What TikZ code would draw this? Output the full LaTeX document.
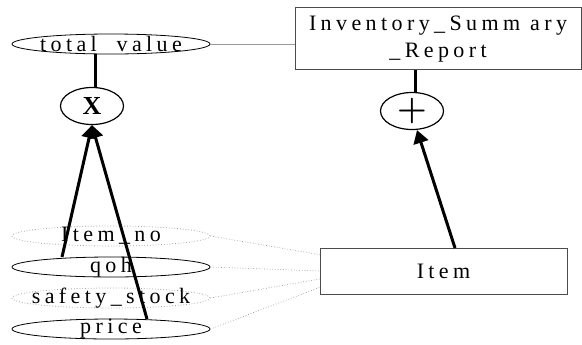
\documentclass[tikz,border=0pt]{standalone}
\usepackage{fontspec}
\setmainfont{Liberation Serif}
\newfontfamily\spaced[LetterSpace=20]{Liberation Serif}
\newfontfamily\lmfont{Latin Modern Roman}
\usetikzlibrary{shapes.geometric,arrows.meta,calc}
\begin{document}
\begin{tikzpicture}[x=1bp,y=-1bp,
  lbl/.style={font=\spaced\fontsize{22bp}{27bp}\selectfont, inner sep=0pt, align=center},
  attr/.style={ellipse, draw=black, line width=0.8bp, minimum width=198bp, minimum height=20bp, inner sep=0pt},
  weakattr/.style={attr, draw=gray!70, dotted},
  entbox/.style={rectangle, draw=black!70, line width=1bp, inner sep=0pt},
  opnode/.style={ellipse, draw=black, line width=1.2bp, minimum width=63bp, minimum height=37bp, inner sep=0pt},
  thickln/.style={line width=3bp},
  flow/.style={line width=3bp, -{Triangle[length=13bp,width=15bp]}},
  thinln/.style={draw=gray!80, line width=0.8bp},
  dotln/.style={draw=gray!80, line width=0.7bp, dotted}]
  \useasboundingbox (0,0) rectangle (582,344);

  % entity boxes
  \node[entbox, minimum width=286bp, minimum height=62bp] (inv) at (438,38) {};
  \node[lbl] (invtext) at ($(inv)+(0,1)$) {Inventory\_Summ ary\\\_Report};
  \node[entbox, minimum width=247bp, minimum height=46bp] (item) at (443.5,271) {};
  \node[lbl] (itemtext) at (item) {Item};

  % derived attribute
  \node[attr] (tv) at (111,44) {};
  \node[lbl] (tvtext) at (tv) {total~~value};

  % operators
  \node[opnode] (times) at (92,106) {};
  \node[font=\bfseries\fontsize{26bp}{26bp}\selectfont, inner sep=0pt] (timestext) at (times) {X};
  \node[opnode] (plus) at (412,111) {};
  \node[font=\lmfont\fontsize{34bp}{34bp}\selectfont, inner sep=0pt, text=black] (plustext) at (plus) {\textbf{+}};

  % attributes of Item
  \node[weakattr] (itemno) at (111,236) {};
  \node[lbl] (itemnotext) at (itemno) {Item\_no};
  \node[attr] (qoh) at (111,267) {};
  \node[lbl] (qohtext) at (qoh) {qoh};
  \node[weakattr] (safety) at (111,298) {};
  \node[lbl] (safetytext) at (safety) {safety\_stock};
  \node[attr] (price) at (111,329) {};
  \node[lbl] (pricetext) at (price) {price};

  % links between attributes and entities
  \draw[thinln] (tv.east) -- (tv.east -| inv.west);
  \draw[dotln] (itemno.east) -- ($(item.north west)!0.15!(item.south west)$);
  \draw[dotln] (qoh.east) -- ($(item.north west)!0.5!(item.south west)$);
  \draw[dotln] (safety.east) -- ($(item.north west)!0.67!(item.south west)$);
  \draw[dotln] (price.east) -- ($(item.north west)!0.85!(item.south west)$);

  % operator wiring
  \draw[thickln] (times.80) -- (times.80 |- tv.south);
  \draw[thickln] (plus.80) -- (plus.80 |- inv.south);
  \coordinate (qohtop) at (62,257);
  \coordinate (pricetop) at (147,319);
  \coordinate (itemtop) at (455,248);
  \draw[flow] (qohtop) -- (times.south);
  \draw[flow] (pricetop) -- (times.south);
  \draw[flow] (itemtop) -- ($(plus.south)+(5,0)$);
\end{tikzpicture}
\end{document}
